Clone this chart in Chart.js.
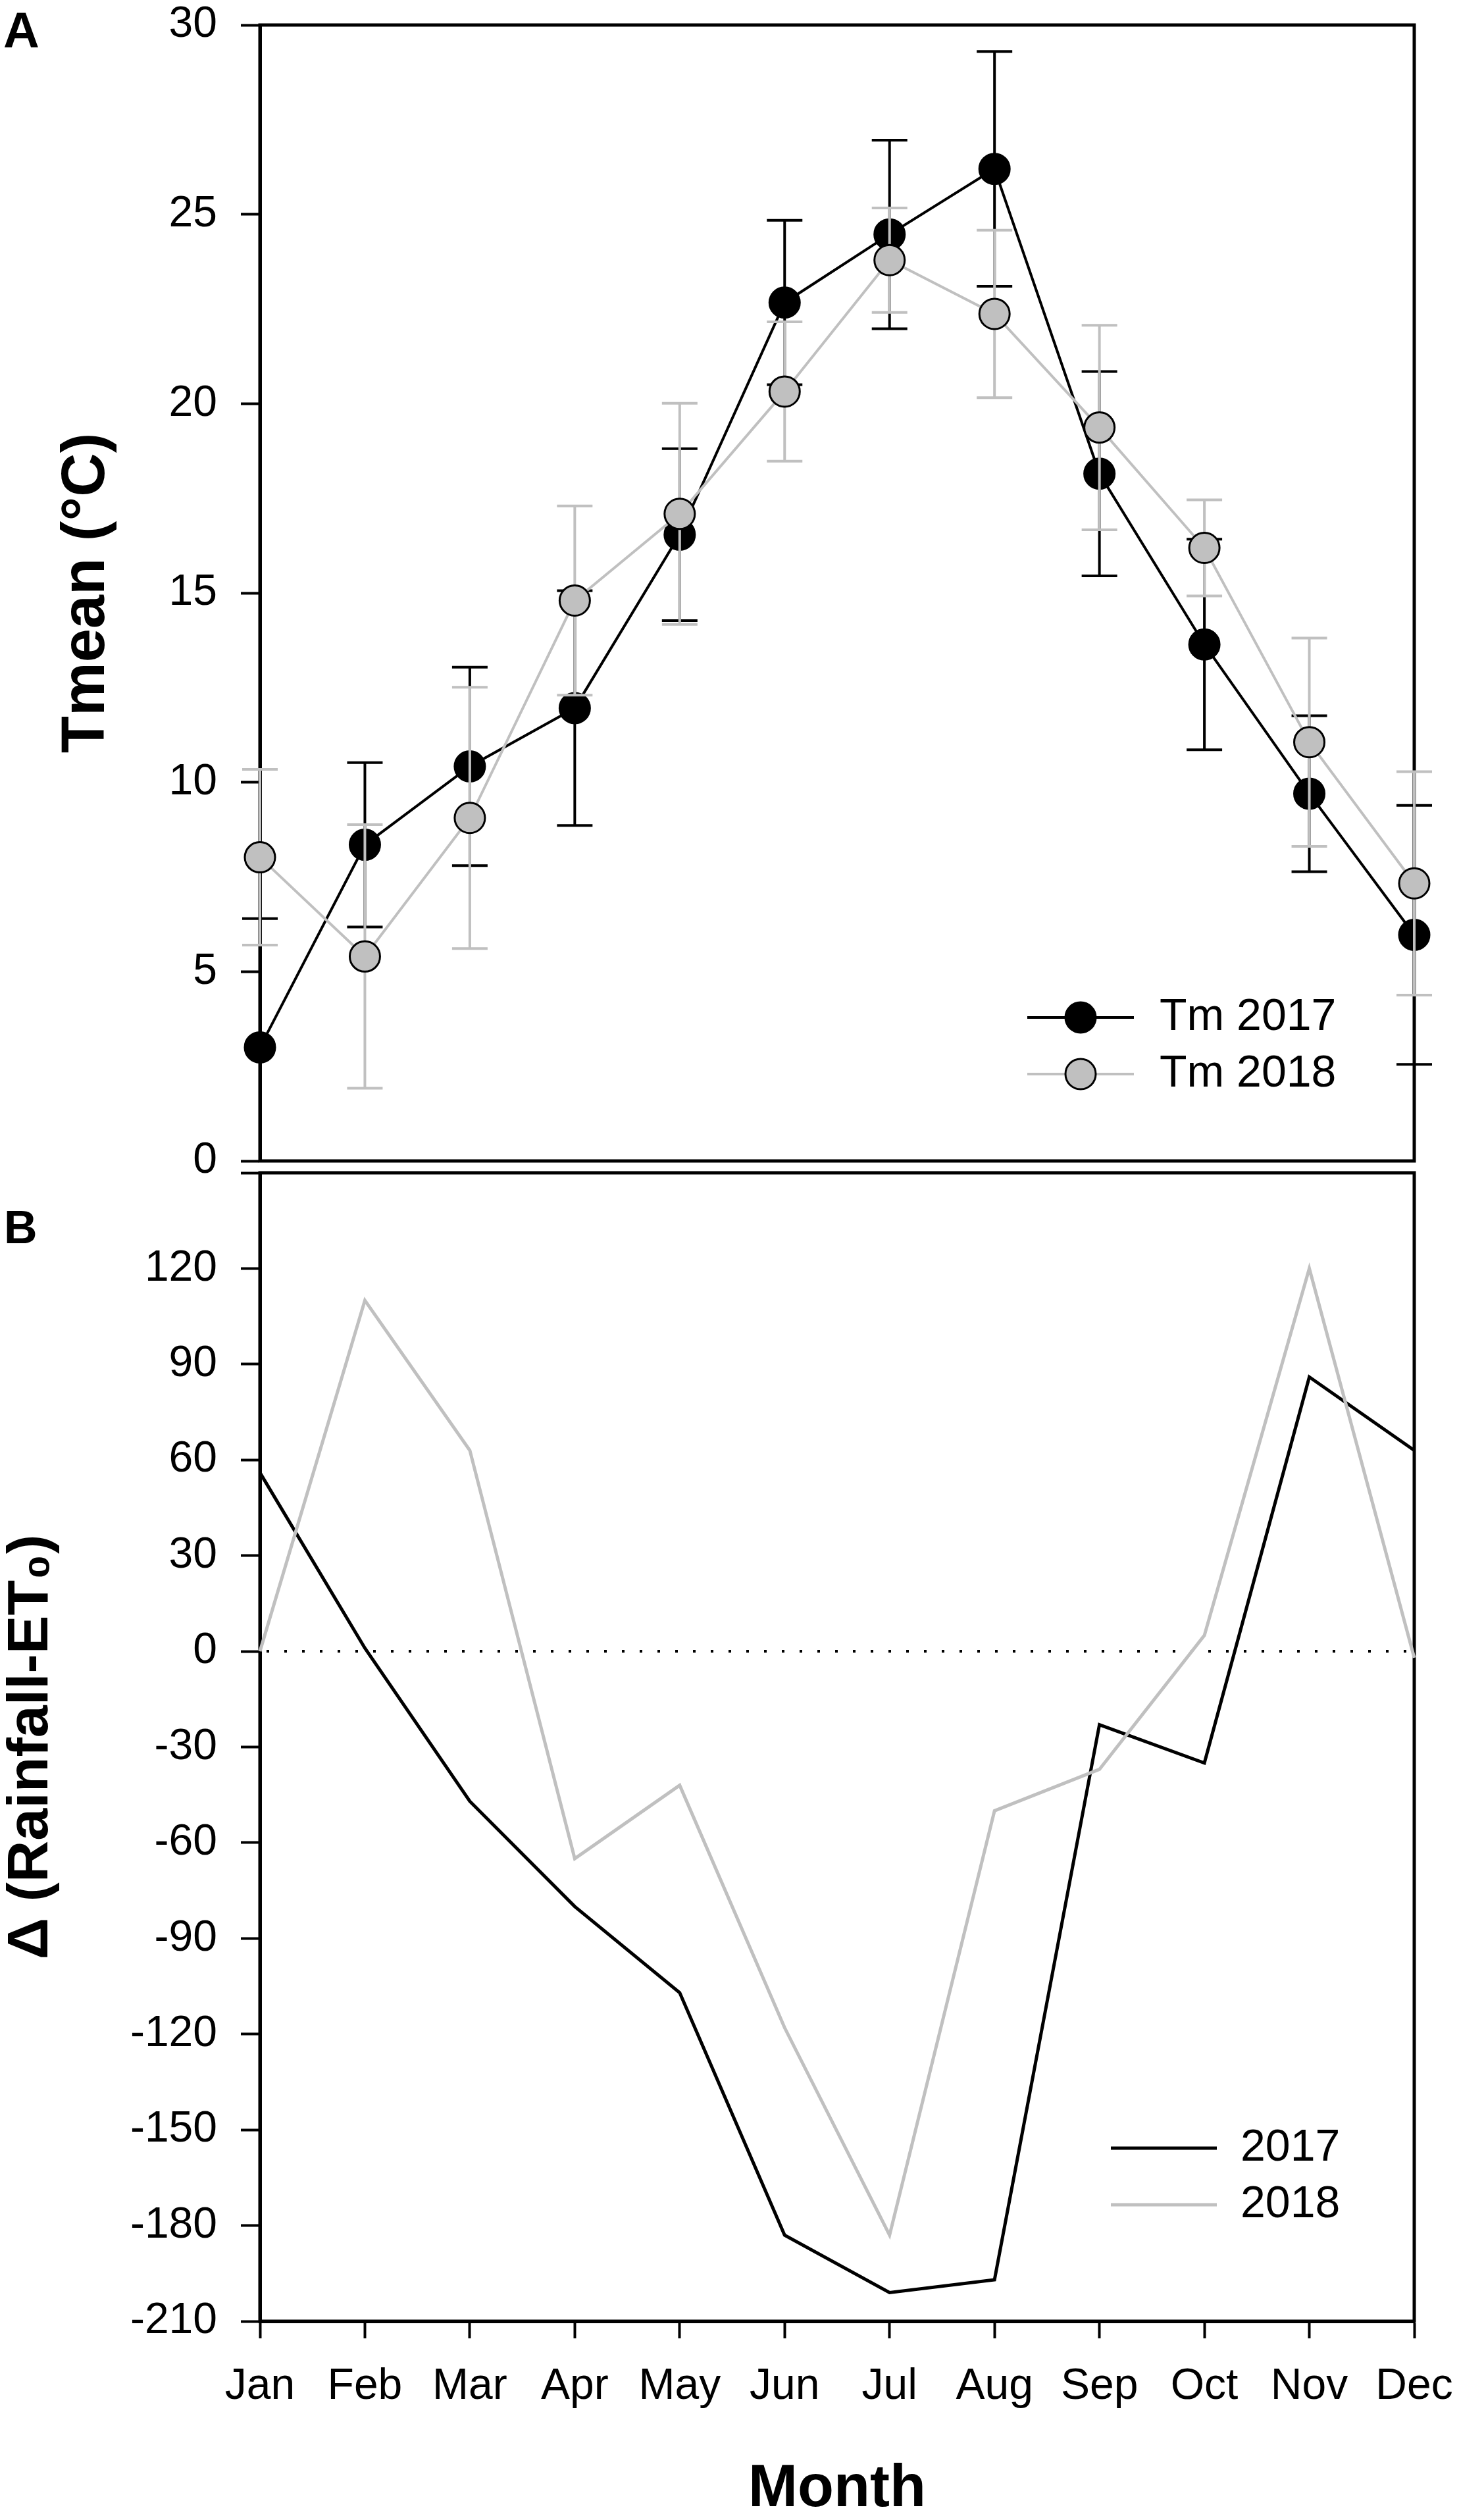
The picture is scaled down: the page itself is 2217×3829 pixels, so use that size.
<!DOCTYPE html>
<html>
<head>
<meta charset="utf-8">
<script src="https://cdn.jsdelivr.net/npm/chart.js@4.4.1/dist/chart.umd.min.js"></script>
<style>
  html, body { margin: 0; padding: 0; background: #fff; }
  body { width: 2217px; height: 3829px; position: relative; overflow: hidden; font-family: "Liberation Sans", Arial, sans-serif; }
  .wrap { position: absolute; left: 0; width: 2217px; }
  #wrapA { top: 0; height: 1790px; }
  #wrapB { top: 1770px; height: 2059px; }
  .panel { position: absolute; font-weight: bold; color: #000; line-height: 1; }
</style>
</head>
<body>
<div class="wrap" id="wrapA"><canvas id="tempChart"></canvas></div>
<div class="wrap" id="wrapB"><canvas id="waterChart"></canvas></div>
<div class="panel" style="left:5px; top:8px; font-size:76px;">A</div>
<div class="panel" style="left:6px; top:1830px; font-size:70px;">B</div>
<script>
const FONT = '"Liberation Sans", Arial, sans-serif';
const GREY = '#c0c0c0';

const months = ['Jan', 'Feb', 'Mar', 'Apr', 'May', 'Jun', 'Jul', 'Aug', 'Sep', 'Oct', 'Nov', 'Dec'];

// panel A: mean temperature and its error bars
const tm2017 = [3.0, 8.35, 10.42, 11.96, 16.54, 22.67, 24.47, 26.2, 18.15, 13.64, 9.7, 5.97];
const tm2018 = [8.02, 5.4, 9.06, 14.8, 17.09, 20.32, 23.79, 22.37, 19.37, 16.19, 11.06, 7.33];
const err2017 = [3.4, 2.17, 2.62, 3.1, 2.27, 2.17, 2.49, 3.1, 2.7, 2.78, 2.06, 3.42];
const err2018 = [2.32, 3.48, 3.45, 2.5, 2.92, 1.84, 1.38, 2.21, 2.7, 1.27, 2.75, 2.95];

// panel B: rainfall minus ET0
const rain2017 = [56, 1, -47, -80, -107, -183, -201, -197, -23, -35, 86, 63];
const rain2018 = [0, 110, 63, -65, -42, -118, -183, -50, -37, 5, 120, -2];
const refLine = 0;

const yTicksA = { min: 0, max: 30, step: 5 };
const yTicksB = { min: -210, max: 150, step: 30 };

// error bars under each dataset
const errorBars = {
  id: 'errorBars',
  beforeDatasetDraw(chart, args) {
    const ds = chart.data.datasets[args.index];
    if (!ds.errors) return;
    const { ctx, chartArea, scales: { x, y } } = chart;
    ctx.save();
    ctx.beginPath();
    ctx.rect(0, chartArea.top - 2, chart.width, chartArea.bottom - chartArea.top + 4);
    ctx.clip();
    ctx.strokeStyle = ds.borderColor;
    ctx.lineWidth = 4;
    ds.data.forEach((v, i) => {
      const px = x.getPixelForValue(i);
      const hi = y.getPixelForValue(v + ds.errors[i]);
      const lo = y.getPixelForValue(v - ds.errors[i]);
      ctx.beginPath();
      ctx.moveTo(px, hi); ctx.lineTo(px, lo);
      ctx.moveTo(px - 27, hi); ctx.lineTo(px + 27, hi);
      ctx.moveTo(px - 27, lo); ctx.lineTo(px + 27, lo);
      ctx.stroke();
    });
    ctx.restore();
  }
};

// box around the plot area
const frame = {
  id: 'frame',
  beforeDatasetsDraw(chart) {
    const { ctx, chartArea: a } = chart;
    ctx.save();
    ctx.strokeStyle = '#000';
    ctx.lineWidth = 5;
    ctx.strokeRect(a.left, a.top, a.right - a.left, a.bottom - a.top);
    ctx.restore();
  }
};

// dotted zero line in panel B
const zeroLine = {
  id: 'zeroLine',
  beforeDatasetsDraw(chart) {
    const { ctx, chartArea: a, scales: { y } } = chart;
    const py = y.getPixelForValue(refLine);
    ctx.save();
    ctx.strokeStyle = '#000';
    ctx.lineWidth = 4;
    ctx.setLineDash([4, 23]);
    ctx.beginPath();
    ctx.moveTo(a.left + 10, py);
    ctx.lineTo(a.right, py);
    ctx.stroke();
    ctx.restore();
  }
};

// legend drawn inside the plot
const insideLegend = {
  id: 'insideLegend',
  afterDatasetsDraw(chart, args, opts) {
    const { ctx } = chart;
    ctx.save();
    chart.data.datasets.forEach((ds, i) => {
      const yRow = opts.rows[i];
      ctx.strokeStyle = ds.borderColor;
      ctx.lineWidth = ds.borderWidth;
      ctx.beginPath();
      ctx.moveTo(opts.lineFrom, yRow);
      ctx.lineTo(opts.lineTo, yRow);
      ctx.stroke();
      if (ds.pointRadius > 0) {
        ctx.beginPath();
        ctx.arc((opts.lineFrom + opts.lineTo) / 2, yRow, ds.pointRadius, 0, Math.PI * 2);
        ctx.fillStyle = ds.pointBackgroundColor;
        ctx.fill();
        ctx.lineWidth = ds.pointBorderWidth;
        ctx.strokeStyle = ds.pointBorderColor;
        ctx.stroke();
      }
      ctx.fillStyle = '#000';
      ctx.font = `68px ${FONT}`;
      ctx.textBaseline = 'middle';
      ctx.textAlign = 'left';
      ctx.fillText(ds.label, opts.textX, yRow);
    });
    ctx.restore();
  }
};

const yAxisBase = (lim, title, titleSize, titleLH, titlePad) => ({
  min: lim.min,
  max: lim.max,
  afterFit: s => { s.width = 395; s.paddingTop = 0; s.paddingBottom = 0; },
  ticks: {
    stepSize: lim.step,
    color: '#000',
    font: { family: FONT, size: 66 },
    padding: 36,
    callback: v => (v > 140 && lim.max === 150) ? '' : String(v),
  },
  grid: { drawOnChartArea: false, tickLength: 29, tickWidth: 4, tickColor: '#000' },
  border: { display: true, color: '#000', width: 5 },
  title: {
    display: true, text: title, color: '#000',
    font: { family: FONT, size: titleSize, weight: 'bold', lineHeight: titleLH },
    padding: { top: titlePad, bottom: 0 },
  },
});

Chart.defaults.font.family = FONT;

new Chart(document.getElementById('tempChart'), {
  type: 'line',
  data: {
    labels: months,
    datasets: [
      {
        label: 'Tm 2017', data: tm2017, errors: err2017,
        borderColor: '#000', borderWidth: 4,
        pointRadius: 23, pointBackgroundColor: '#000', pointBorderColor: '#000', pointBorderWidth: 3,
        clip: false, order: 2,
      },
      {
        label: 'Tm 2018', data: tm2018, errors: err2018,
        borderColor: GREY, borderWidth: 4,
        pointRadius: 23, pointBackgroundColor: GREY, pointBorderColor: '#000', pointBorderWidth: 3,
        clip: false, order: 1,
      },
    ]
  },
  plugins: [frame, errorBars, insideLegend],
  options: {
    responsive: true,
    maintainAspectRatio: false,
    devicePixelRatio: 1,
    animation: false,
    layout: { padding: { top: 38, right: 68, bottom: 8, left: 0 } },
    plugins: {
      legend: { display: false },
      tooltip: { enabled: false },
      insideLegend: { rows: [1546, 1632], lineFrom: 1561, lineTo: 1723, textX: 1762 },
    },
    scales: {
      x: {
        type: 'category', offset: false,
        afterFit: s => { s.height = 0; s.paddingLeft = 0; s.paddingRight = 0; },
        ticks: { display: false },
        grid: { display: false },
        border: { display: false },
      },
      y: yAxisBase(yTicksA, 'Tmean (°C)', 92, 1.2, 77),
    }
  }
});

new Chart(document.getElementById('waterChart'), {
  type: 'line',
  data: {
    labels: months,
    datasets: [
      { label: '2017', data: rain2017, borderColor: '#000', borderWidth: 5, pointRadius: 0, clip: false, order: 2 },
      { label: '2018', data: rain2018, borderColor: GREY, borderWidth: 5, pointRadius: 0, clip: false, order: 1 },
    ]
  },
  plugins: [frame, zeroLine, insideLegend],
  options: {
    responsive: true,
    maintainAspectRatio: false,
    devicePixelRatio: 1,
    animation: false,
    layout: { padding: { top: 12, right: 68, bottom: 0, left: 0 } },
    plugins: {
      legend: { display: false },
      tooltip: { enabled: false },
      insideLegend: { rows: [1494, 1580], lineFrom: 1688, lineTo: 1849, textX: 1885 },
    },
    scales: {
      x: {
        type: 'category', offset: false,
        afterFit: s => { s.height = 302; s.paddingLeft = 0; s.paddingRight = 0; },
        ticks: { color: '#000', font: { family: FONT, size: 66 }, padding: 34, maxRotation: 0, autoSkip: false },
        grid: { drawOnChartArea: false, offset: false, tickLength: 26, tickWidth: 4, tickColor: '#000' },
        border: { display: true, color: '#000', width: 5 },
        title: {
          display: true, text: 'Month', color: '#000',
          font: { family: FONT, size: 90, weight: 'bold', lineHeight: 1 },
          padding: { top: 0, bottom: 1 },
        },
      },
      y: yAxisBase(yTicksB, 'Δ (Rainfall-ET₀)', 88, 1, 4),
    }
  }
});
</script>
</body>
</html>
